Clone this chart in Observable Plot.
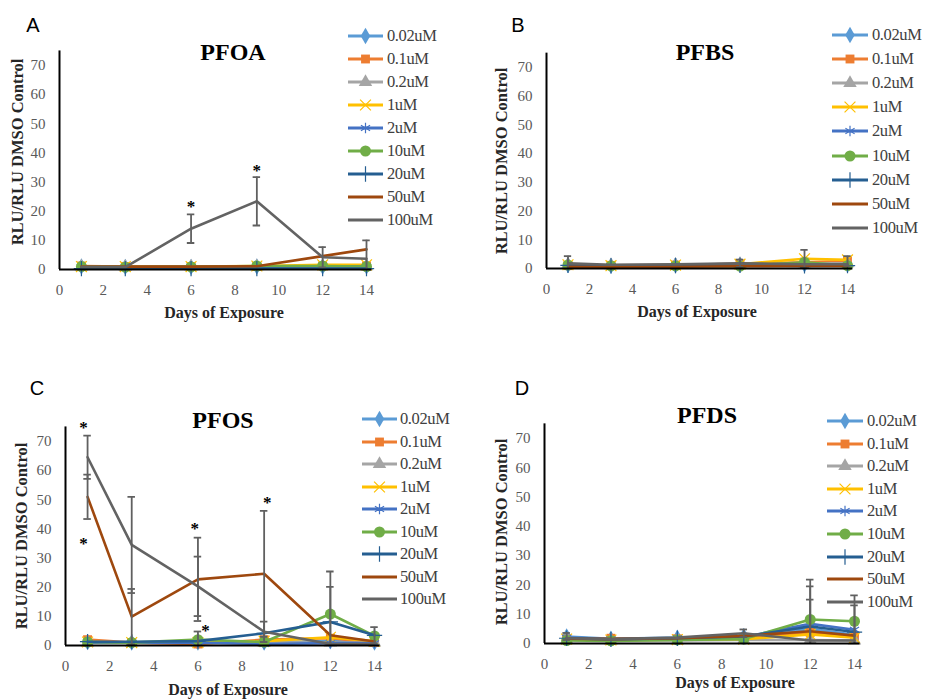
<!DOCTYPE html>
<html>
<head>
<meta charset="utf-8">
<script src="https://cdn.jsdelivr.net/npm/d3@7"></script>
<script src="https://cdn.jsdelivr.net/npm/@observablehq/plot@0.6"></script>
<style>
  body { margin: 0; background: #fff; }
  #chart { position: relative; width: 925px; height: 700px; background: #fff; overflow: hidden; }
  .lbl { position: absolute; white-space: nowrap; transform: translate(-50%, -50%); }
  .letter { font-family: "Liberation Sans", Arial, sans-serif; font-size: 20px; color: #000; }
  .title { font-family: "Liberation Serif", "Times New Roman", serif; font-weight: bold; font-size: 24px; color: #000; }
  .xt { font-family: "Liberation Serif", "Times New Roman", serif; font-weight: bold; font-size: 16px; color: #262626; }
  .yt { font-family: "Liberation Serif", "Times New Roman", serif; font-weight: bold; font-size: 16.5px; color: #262626; transform: translate(-50%, -50%) rotate(-90deg); }
  .leg { position: absolute; font-family: "Liberation Serif", "Times New Roman", serif; font-size: 16.5px; letter-spacing: -0.4px; color: #404040; white-space: nowrap; line-height: 16px; }
</style>
</head>
<body>
<div id="chart"></div>
<script>
// ---------- data ----------
const days = [1, 3, 6, 9, 12, 14];
const concentrations = ["0.02uM", "0.1uM", "0.2uM", "1uM", "2uM", "10uM", "20uM", "50uM", "100uM"];
const xTicks = [0, 2, 4, 6, 8, 10, 12, 14];
const yTicks = [0, 10, 20, 30, 40, 50, 60, 70];

// one row per concentration, one value per day
const pfoaValues = [
  [1.0, 0.9, 0.9, 1.0, 1.0, 1.0],
  [1.2, 1.0, 1.0, 1.0, 1.2, 1.2],
  [1.0, 0.9, 1.0, 1.1, 1.2, 1.1],
  [1.0, 1.0, 1.0, 1.2, 1.6, 1.6],
  [0.9, 0.8, 0.9, 1.0, 1.1, 1.0],
  [1.0, 0.8, 0.9, 1.2, 1.2, 1.0],
  [0.3, 0.3, 0.3, 0.3, 0.3, 0.3],
  [1.0, 1.0, 1.0, 1.1, 4.6, 6.9],
  [0.8, 0.8, 14.0, 23.4, 4.2, 3.7]
];
const pfoaErrors = [["100uM", 6, 4.9], ["100uM", 9, 8.3], ["100uM", 12, 3.5], ["100uM", 14, 6.3]];
const pfoaStars = [[6, 23.4], [9, 35.5]];

const pfbsValues = [
  [1.2, 1.0, 1.1, 1.3, 1.4, 1.3],
  [1.0, 1.1, 1.2, 1.6, 2.2, 2.6],
  [1.4, 1.1, 1.3, 1.6, 1.8, 1.8],
  [1.3, 1.0, 1.2, 1.5, 3.4, 3.0],
  [1.0, 0.9, 1.0, 1.2, 1.3, 1.2],
  [1.2, 0.9, 0.9, 0.8, 2.2, 1.0],
  [1.1, 0.9, 1.0, 1.1, 0.9, 1.0],
  [0.6, 0.5, 0.6, 0.8, 0.9, 0.9],
  [1.8, 1.3, 1.5, 1.8, 1.5, 1.5]
];
const pfbsErrors = [["100uM", 1, 2.5], ["100uM", 9, 1.3], ["1uM", 12, 3.1], ["0.1uM", 14, 1.7]];
const pfbsStars = [];

const pfosValues = [
  [1.2, 1.0, 1.0, 1.0, 1.5, 1.0],
  [2.0, 1.0, 0.5, 2.0, 2.5, 1.0],
  [1.0, 1.0, 1.0, 1.0, 1.0, 1.0],
  [1.2, 1.0, 1.0, 1.5, 2.8, 1.5],
  [1.0, 1.0, 1.0, 0.5, 0.8, 0.8],
  [1.2, 1.0, 2.0, 1.2, 10.8, 3.3],
  [1.3, 1.3, 1.5, 4.2, 8.1, 3.5],
  [51.0, 9.9, 22.7, 24.6, 3.5, 1.4],
  [64.6, 34.5, 20.3, 4.7, 0.5, 0.5]
];
const pfosErrors = [
  ["100uM", 1, 7.4], ["50uM", 1, 7.6], ["100uM", 3, 16.5], ["50uM", 3, 9.5],
  ["50uM", 6, 14.3], ["100uM", 6, 10.2], ["10uM", 6, 2.8], ["50uM", 9, 21.6],
  ["100uM", 9, 3.5], ["10uM", 12, 14.6], ["20uM", 12, 12.0], ["20uM", 14, 2.8]
];
const pfosStars = [[0.82, 76.6], [0.82, 36.6], [5.86, 41.8], [6.34, 6.9], [9.14, 50.9]];

const pfdsValues = [
  [2.4, 1.6, 2.0, 2.5, 5.0, 3.0],
  [1.5, 1.8, 1.6, 2.0, 3.8, 2.5],
  [1.2, 1.0, 1.0, 1.2, 1.2, 1.0],
  [1.5, 1.2, 1.3, 1.5, 3.1, 2.0],
  [2.0, 1.5, 1.8, 2.2, 6.7, 4.7],
  [1.0, 0.9, 1.2, 1.5, 8.2, 7.6],
  [1.8, 1.4, 1.8, 2.4, 5.8, 3.9],
  [1.6, 1.5, 1.8, 2.6, 4.2, 2.7],
  [1.8, 1.5, 2.0, 3.5, 1.0, 1.0]
];
const pfdsErrors = [
  ["0.02uM", 1, 1.2], ["100uM", 9, 1.3], ["10uM", 12, 13.6], ["2uM", 12, 12.8],
  ["20uM", 12, 9.2], ["10uM", 14, 8.8], ["2uM", 14, 8.3]
];
const pfdsStars = [];

// ---------- styles ----------
const seriesColors = ["#5B9BD5", "#ED7D31", "#A5A5A5", "#FFC000", "#4472C4", "#70AD47", "#255E91", "#9E480E", "#636363"];
const seriesSymbols = ["diamond", "square", "triangle", "times", "asterisk", "circle", "plus", null, null];
const seriesSizes = [5, 5, 5, 5, 5, 5.5, 5, 0, 0];
const strokeSymbols = new Set(["times", "asterisk", "plus"]);
const errColor = "#606060";

const W = 925, H = 700, XMAX = 14.25, YMAX = 75;

const panels = [
  { letter: "A", title: "PFOA", values: pfoaValues, errors: pfoaErrors, stars: pfoaStars,
    x0: 59, x14: 366, y0: 269, y70: 65,
    letterPos: [33, 25], titlePos: [233, 52], xLabelPos: [224, 313], yLabelPos: [18, 152],
    legend: { x: 348, y: 36, step: 23, len: 35, textX: 387 } },
  { letter: "B", title: "PFBS", values: pfbsValues, errors: pfbsErrors, stars: pfbsStars,
    x0: 546, x14: 847, y0: 268, y70: 67,
    letterPos: [518, 25], titlePos: [705, 52], xLabelPos: [697, 312], yLabelPos: [502, 161],
    legend: { x: 832, y: 35, step: 24.1, len: 36, textX: 872 } },
  { letter: "C", title: "PFOS", values: pfosValues, errors: pfosErrors, stars: pfosStars,
    x0: 65, x14: 374, y0: 645, y70: 441,
    letterPos: [37, 388], titlePos: [223, 420], xLabelPos: [228, 690], yLabelPos: [22, 536],
    legend: { x: 362, y: 419, step: 22.5, len: 35, textX: 400 } },
  { letter: "D", title: "PFDS", values: pfdsValues, errors: pfdsErrors, stars: pfdsStars,
    x0: 544, x14: 854, y0: 643, y70: 438,
    letterPos: [522, 388], titlePos: [707, 415], xLabelPos: [735, 683], yLabelPos: [502, 532],
    legend: { x: 827, y: 421, step: 22.6, len: 36, textX: 867 } }
];

const chart = document.getElementById("chart");

function addLabel(cls, text, pos) {
  const d = document.createElement("div");
  d.className = "lbl " + cls;
  d.textContent = text;
  d.style.left = pos[0] + "px";
  d.style.top = pos[1] + "px";
  chart.appendChild(d);
}

function swatch(i, len) {
  const ns = "http://www.w3.org/2000/svg";
  const svg = document.createElementNS(ns, "svg");
  svg.setAttribute("width", len);
  svg.setAttribute("height", 16);
  svg.style.position = "absolute";
  svg.style.left = "0px";
  svg.style.top = "0px";
  svg.style.overflow = "visible";
  const line = document.createElementNS(ns, "line");
  line.setAttribute("x1", 0); line.setAttribute("x2", len);
  line.setAttribute("y1", 8); line.setAttribute("y2", 8);
  line.setAttribute("stroke", seriesColors[i]);
  line.setAttribute("stroke-width", 3);
  svg.appendChild(line);
  const sym = seriesSymbols[i];
  if (sym) {
    const symMap = { diamond: d3.symbolDiamond, square: d3.symbolSquare, triangle: d3.symbolTriangle,
      times: d3.symbolTimes, asterisk: d3.symbolAsterisk, circle: d3.symbolCircle, plus: d3.symbolPlus };
    const r = seriesSizes[i];
    const p = document.createElementNS(ns, "path");
    p.setAttribute("d", d3.symbol(symMap[sym], Math.PI * r * r)());
    p.setAttribute("transform", `translate(${len / 2},8)`);
    if (strokeSymbols.has(sym)) {
      p.setAttribute("fill", "none");
      p.setAttribute("stroke", seriesColors[i]);
      p.setAttribute("stroke-width", 1.2);
    } else {
      p.setAttribute("fill", seriesColors[i]);
    }
    svg.appendChild(p);
  }
  return svg;
}

for (const P of panels) {
  const pxDay = (P.x14 - P.x0) / 14;
  const pxUnit = (P.y0 - P.y70) / 70;
  const marginRight = W - (P.x0 + XMAX * pxDay);
  const marginTop = P.y0 - YMAX * pxUnit;
  const marginBottom = H - P.y0;

  const rows = [];
  concentrations.forEach((c, i) => days.forEach((d, j) => rows.push({ conc: c, i, day: d, value: P.values[i][j] })));
  const errRows = P.errors.map(([c, d, e]) => {
    const i = concentrations.indexOf(c);
    const v = P.values[i][days.indexOf(d)];
    return { day: d, hi: v + e, lo: v - e };
  });
  const starRows = P.stars.map(([d, v]) => ({ day: d, value: v }));

  const marks = [
    Plot.axisX({ ticks: xTicks, tickSize: 0, tickPadding: 15, label: null, tickFormat: d => String(d) }),
    Plot.axisY({ ticks: yTicks, tickSize: 0, tickPadding: 14, label: null, tickFormat: d => String(d) })
  ];
  concentrations.forEach((c, i) => {
    const sr = rows.filter(r => r.i === i);
    marks.push(Plot.line(sr, { x: "day", y: "value", stroke: seriesColors[i], strokeWidth: 2.6, clip: true }));
    const sym = seriesSymbols[i];
    if (sym) {
      if (strokeSymbols.has(sym)) {
        marks.push(Plot.dot(sr, { x: "day", y: "value", symbol: () => sym, r: seriesSizes[i], stroke: seriesColors[i], strokeWidth: 1.2, fill: "none" }));
      } else {
        marks.push(Plot.dot(sr, { x: "day", y: "value", symbol: () => sym, r: seriesSizes[i], fill: seriesColors[i], stroke: "none" }));
      }
    }
  });
  marks.push(
    Plot.ruleX(errRows, { x: "day", y1: "lo", y2: "hi", stroke: errColor, strokeWidth: 1.8, clip: true }),
    Plot.ruleY(errRows, { y: "hi", x1: d => d.day - 0.17, x2: d => d.day + 0.17, stroke: errColor, strokeWidth: 1.8, clip: true }),
    Plot.ruleY(errRows, { y: "lo", x1: d => d.day - 0.17, x2: d => d.day + 0.17, stroke: errColor, strokeWidth: 1.8, clip: true }),
    Plot.ruleX([0], { stroke: "#000", strokeWidth: 2 }),
    Plot.ruleY([0], { stroke: "#000", strokeWidth: 2 }),
    Plot.text(starRows, { x: "day", y: "value", text: () => "*", fontSize: 17, fontWeight: "bold", fill: "#000", dy: 5 })
  );

  const svg = Plot.plot({
    width: W, height: H,
    marginLeft: P.x0, marginRight, marginTop, marginBottom,
    x: { domain: [0, XMAX] },
    y: { domain: [0, YMAX] },
    style: { background: "transparent", overflow: "visible", fontFamily: "'Liberation Serif', 'Times New Roman', serif", fontSize: "15px", color: "#595959" },
    marks
  });
  svg.style.position = "absolute";
  svg.style.left = "0px";
  svg.style.top = "0px";
  svg.style.maxWidth = "none";
  chart.appendChild(svg);

  addLabel("letter", P.letter, P.letterPos);
  addLabel("title", P.title, P.titlePos);
  addLabel("xt", "Days of Exposure", P.xLabelPos);
  addLabel("yt", "RLU/RLU DMSO Control", P.yLabelPos);

  concentrations.forEach((c, i) => {
    const row = document.createElement("div");
    row.className = "leg";
    row.style.left = P.legend.x + "px";
    row.style.top = (P.legend.y + i * P.legend.step - 8) + "px";
    row.style.height = "16px";
    row.style.width = (P.legend.textX - P.legend.x + 60) + "px";
    row.appendChild(swatch(i, P.legend.len));
    const t = document.createElement("span");
    t.textContent = c;
    t.style.position = "absolute";
    t.style.left = (P.legend.textX - P.legend.x) + "px";
    t.style.top = "0px";
    row.appendChild(t);
    chart.appendChild(row);
  });
}
</script>
</body>
</html>
